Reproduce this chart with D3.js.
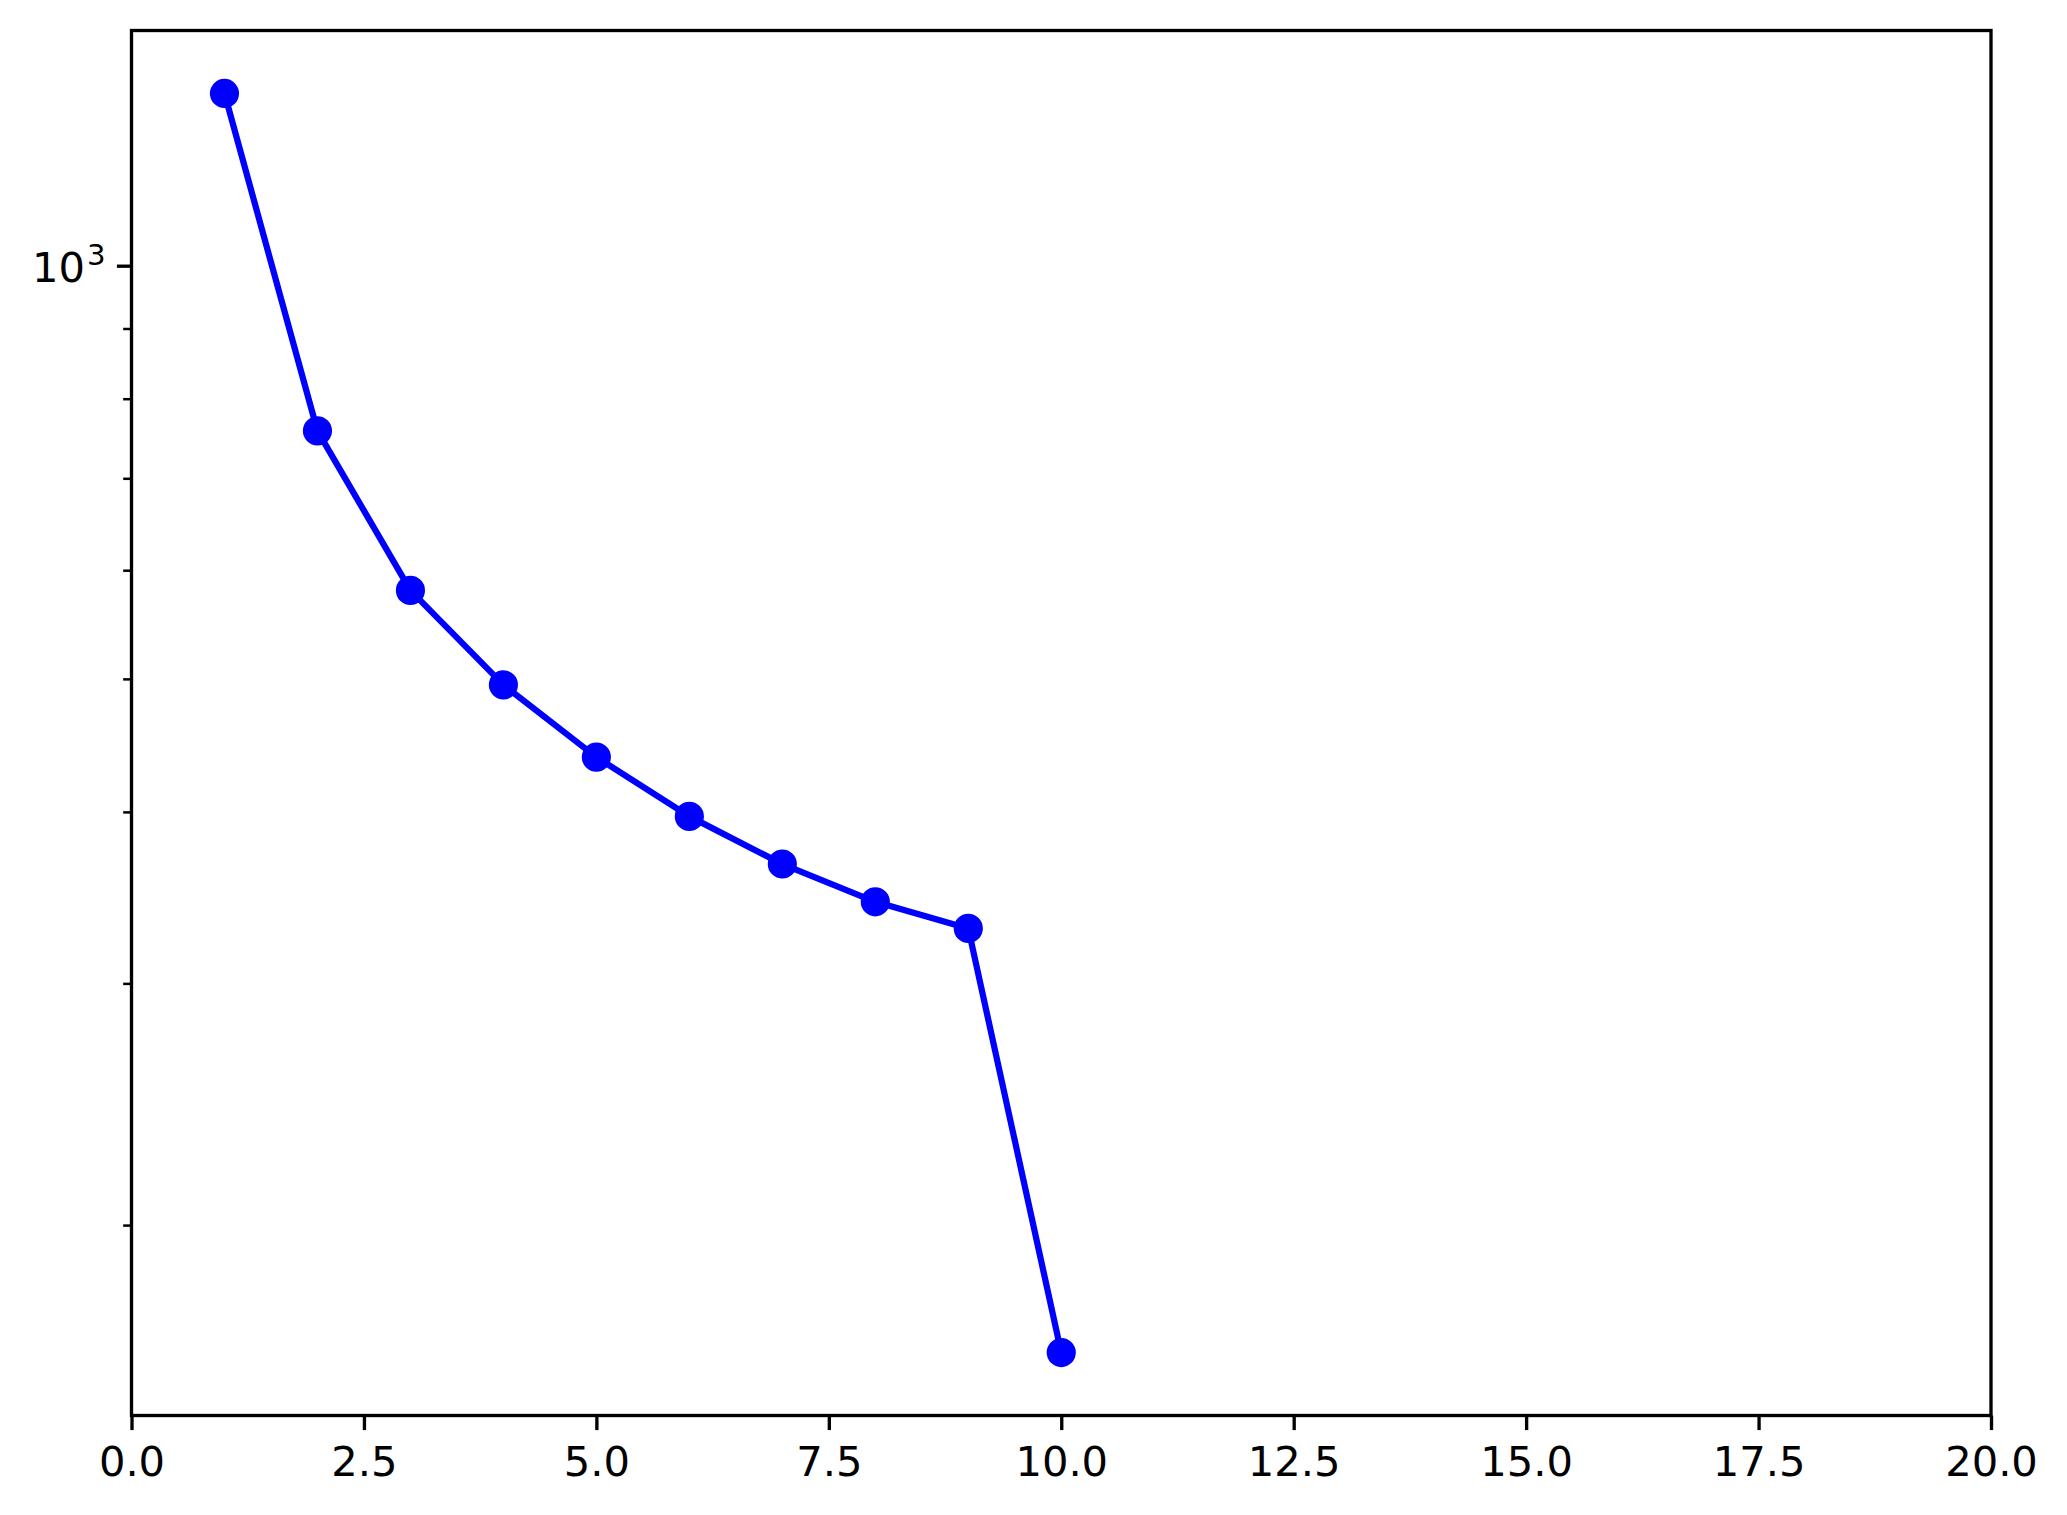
<!DOCTYPE html>
<html>
<head>
<meta charset="utf-8">
<script src="https://d3js.org/d3.v7.min.js"></script>
<style>
body { margin: 0; background: #fff; }
svg { display: block; }
text { font-family: "DejaVu Sans", sans-serif; fill: #000; }
</style>
</head>
<body>
<script>
// data
const xVals = [1, 2, 3, 4, 5, 6, 7, 8, 9, 10];
const yVals = [1335, 758, 580, 495, 438.5, 397, 366.5, 344, 329, 161.5];
const xTicks = [0, 2.5, 5, 7.5, 10, 12.5, 15, 17.5, 20];
const yMajor = [1000];
const yMinor = [200, 300, 400, 500, 600, 700, 800, 900];

const W = 2067, H = 1515;
const plotL = 131.5, plotR = 1991, plotT = 30.5, plotB = 1415.5;
const pt = 300 / 72; // px per point

const svg = d3.select("body").append("svg")
  .attr("width", W)
  .attr("height", H);

const x = d3.scaleLinear().domain([0, 20]).range([plotL, plotR]);

// log axis with 5% margin like matplotlib
const lo = Math.log10(d3.min(yVals)), hi = Math.log10(d3.max(yVals));
const m = (hi - lo) * 0.05;
const y = d3.scaleLog()
  .domain([Math.pow(10, lo - m), Math.pow(10, hi + m)])
  .range([plotB, plotT]);

// line + markers
const line = d3.line()
  .x((d, i) => x(xVals[i]))
  .y(d => y(d));

svg.append("path")
  .datum(yVals)
  .attr("d", line)
  .attr("fill", "none")
  .attr("stroke", "#0000ff")
  .attr("stroke-width", 1.5 * pt)
  .attr("stroke-linejoin", "round")
  .attr("stroke-linecap", "square");

svg.selectAll("circle.pt")
  .data(yVals)
  .enter()
  .append("circle")
  .attr("class", "pt")
  .attr("cx", (d, i) => x(xVals[i]))
  .attr("cy", d => y(d))
  .attr("r", 3 * pt)
  .attr("fill", "#0000ff")
  .attr("stroke", "#0000ff")
  .attr("stroke-width", 1 * pt);

// x axis
const xAxis = d3.axisBottom(x)
  .tickValues(xTicks)
  .tickFormat(d => d.toFixed(1))
  .tickSizeInner(3.5 * pt)
  .tickSizeOuter(0)
  .tickPadding(16);

const gx = svg.append("g")
  .attr("transform", "translate(0," + plotB + ")")
  .call(xAxis);
gx.select(".domain").remove();
gx.selectAll(".tick line").attr("stroke", "#000").attr("stroke-width", 0.8 * pt);
gx.selectAll(".tick text").attr("font-size", 10 * pt).attr("font-family", "DejaVu Sans");

// y axis minor ticks
const gyMinor = svg.append("g")
  .attr("transform", "translate(" + plotL + ",0)")
  .call(d3.axisLeft(y).tickValues(yMinor).tickFormat("").tickSizeInner(2 * pt).tickSizeOuter(0));
gyMinor.select(".domain").remove();
gyMinor.selectAll(".tick line").attr("stroke", "#000").attr("stroke-width", 0.6 * pt);

// y axis major tick
const gy = svg.append("g")
  .attr("transform", "translate(" + plotL + ",0)")
  .call(d3.axisLeft(y).tickValues(yMajor).tickFormat("").tickSizeInner(3.5 * pt).tickSizeOuter(0));
gy.select(".domain").remove();
gy.selectAll(".tick line").attr("stroke", "#000").attr("stroke-width", 0.8 * pt);
gy.selectAll(".tick text").remove();
const lab = gy.selectAll(".tick").append("text")
  .attr("x", -26)
  .attr("y", 16)
  .attr("text-anchor", "end")
  .attr("font-size", 10 * pt)
  .attr("font-family", "DejaVu Sans");
lab.append("tspan").text("10");
lab.append("tspan")
  .attr("dx", 2)
  .attr("dy", -17)
  .attr("font-size", 7 * pt)
  .text(d => Math.round(Math.log10(d)));

// frame
svg.append("rect")
  .attr("x", plotL)
  .attr("y", plotT)
  .attr("width", plotR - plotL)
  .attr("height", plotB - plotT)
  .attr("fill", "none")
  .attr("stroke", "#000")
  .attr("stroke-width", 0.8 * pt)
  .attr("stroke-linejoin", "miter");
</script>
</body>
</html>
